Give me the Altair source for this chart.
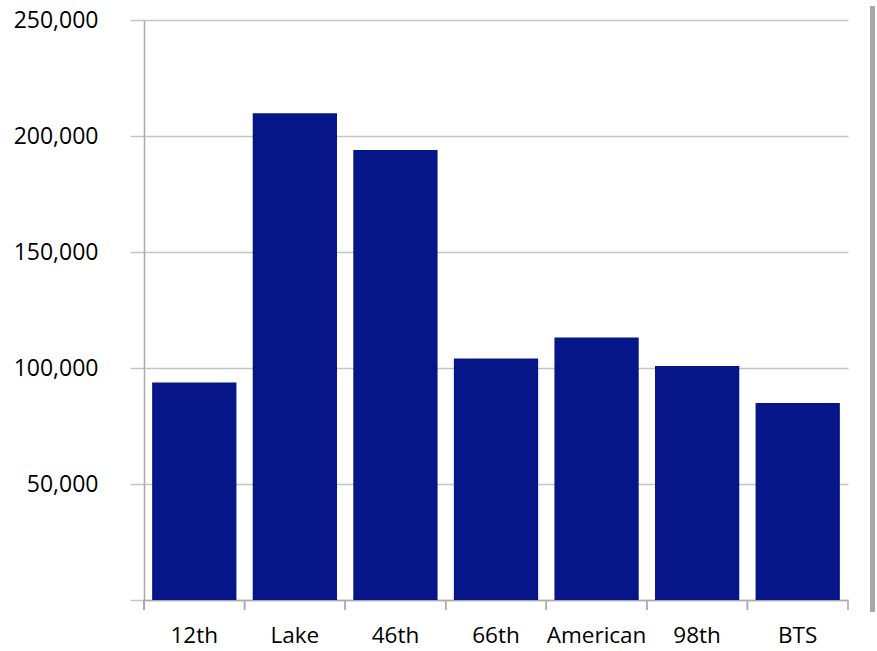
import altair as alt
import pandas as pd

# Annual ridership by station
stations = ["12th", "Lake", "46th", "66th", "American", "98th", "BTS"]
riders = [93700, 209800, 194000, 104100, 113100, 100900, 84900]

y_ticks = [0, 50000, 100000, 150000, 200000, 250000]

PLOT_W = 704
PLOT_H = 580
GRID = "#c4c4c4"
AXIS = "#aaaaaa"
BAR = "#061688"
FONT = "Open Sans"

df = pd.DataFrame({"station": stations, "riders": riders})

x_scale = alt.Scale(domain=stations, paddingInner=0, paddingOuter=0)
y_scale = alt.Scale(domain=[0, 250000], nice=False)

bars = alt.Chart(df).mark_bar(color=BAR, width={"band": 0.838}).encode(
    x=alt.X(
        "station:N",
        scale=x_scale,
        sort=stations,
        title=None,
        axis=alt.Axis(
            labelAngle=0,
            labelFont=FONT,
            labelFontSize=22.5,
            labelColor="#000000",
            labelPadding=24,
            ticks=False,
            domainColor=AXIS,
            domainWidth=1.5,
            grid=False,
        ),
    ),
    y=alt.Y(
        "riders:Q",
        scale=y_scale,
        title=None,
        axis=alt.Axis(
            values=y_ticks,
            labelExpr="datum.value == 0 ? '' : format(datum.value, ',d')",
            labelFont=FONT,
            labelFontSize=23,
            labelColor="#000000",
            labelPadding=32,
            tickSize=14,
            tickColor=GRID,
            tickWidth=1.5,
            domainColor=AXIS,
            domainWidth=1.5,
            gridColor=GRID,
            gridWidth=1.5,
        ),
    ),
)

# Category divider ticks below the baseline, at the left and right edge of each band
tick_left = alt.Chart(df).mark_rule(color=AXIS, strokeWidth=1.5).encode(
    x=alt.X("station:N", scale=x_scale, sort=stations, bandPosition=0),
    y=alt.value(PLOT_H),
    y2=alt.value(PLOT_H + 10),
)
tick_right = alt.Chart(df).mark_rule(color=AXIS, strokeWidth=1.5).encode(
    x=alt.X("station:N", scale=x_scale, sort=stations, bandPosition=1),
    y=alt.value(PLOT_H),
    y2=alt.value(PLOT_H + 10),
)

# y axis line continues a little below the baseline
axis_ext = alt.Chart(df).mark_rule(color=AXIS, strokeWidth=1.5).encode(
    x=alt.value(0),
    y=alt.value(PLOT_H),
    y2=alt.value(PLOT_H + 10),
)

# frame edge on the right
frame = alt.Chart(df).mark_rule(color="#a8a8a8", strokeWidth=5).encode(
    x=alt.value(728.5),
    y=alt.value(-14),
    y2=alt.value(592),
)

chart = (
    alt.layer(bars, tick_left, tick_right, axis_ext, frame)
    .properties(
        width=PLOT_W,
        height=PLOT_H,
        autosize=alt.AutoSizeParams(type="none"),
        padding={"left": 144, "top": 20, "right": 29, "bottom": 51},
        background="white",
    )
    .configure_view(stroke=None)
)

chart.save("out.html", embed_options={"renderer": "svg", "actions": False})
